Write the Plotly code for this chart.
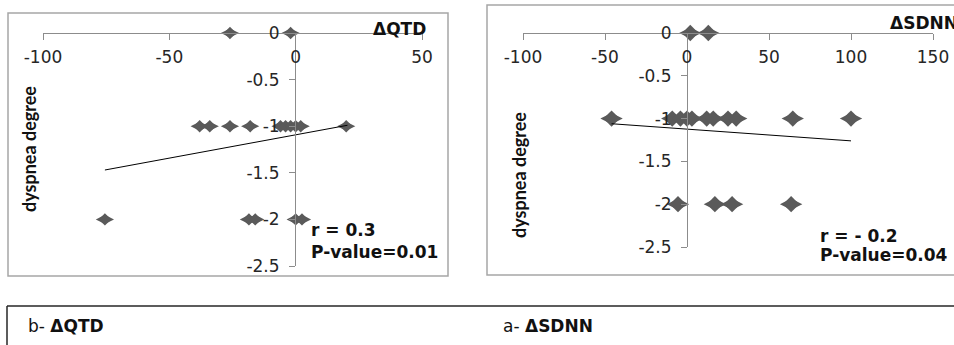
import plotly.graph_objects as go

# ---------------- data ----------------
# Panel b: dQTD vs dyspnea degree
qtd_x = [-26, -2,
         -38, -34, -26, -18, -6, -4, -2, 0, 2, 20,
         -75.5, -18.5, -16, 0, 2.5]
qtd_y = [0, 0,
         -1, -1, -1, -1, -1, -1, -1, -1, -1, -1,
         -2, -2, -2, -2, -2]
qtd_trend_x = [-75.5, 20.5]
qtd_trend_y = [-1.47, -0.99]

# Panel a: dSDNN vs dyspnea degree
sdnn_x = [2, 13,
          -46, -9, -4, 0, 3, 12, 16, 25, 30, 64.5, 100,
          -5.5, 17, 27.5, 63.5]
sdnn_y = [0, 0,
          -1, -1, -1, -1, -1, -1, -1, -1, -1, -1, -1,
          -2, -2, -2, -2]
sdnn_trend_x = [-46, 100]
sdnn_trend_y = [-1.06, -1.26]

qtd_xticks = [-100, -50, 0, 50]
qtd_xtext = ["-100", "-50", "0", "50"]
sdnn_xticks = [-100, -50, 0, 50, 100, 150]
sdnn_xtext = ["-100", "-50", "0", "50", "100", "150"]
y_ticks = [0, -0.5, -1, -1.5, -2, -2.5]
y_text = ["0", "-0.5", "-1", "-1.5", "-2", "-2.5"]

# ---------------- layout helpers ----------------
W, H = 954, 345
def px(x):
    return x / W
def py(y):
    return 1 - y / H

MARK = "#5a5a5a"
AXC = "#8c8c8c"
TXT = "#262626"
tickfont = dict(family="DejaVu Sans", size=17, color=TXT)

fig = go.Figure()

def add_points(x, y, xa, ya, sw, sd):
    fig.add_trace(go.Scatter(x=x, y=y, mode="markers", xaxis=xa, yaxis=ya,
                             marker=dict(symbol="diamond-wide", size=sw, color=MARK),
                             showlegend=False, hoverinfo="skip", cliponaxis=False))
    fig.add_trace(go.Scatter(x=x, y=y, mode="markers", xaxis=xa, yaxis=ya,
                             marker=dict(symbol="diamond", size=sd, color=MARK),
                             showlegend=False, cliponaxis=False))

add_points(qtd_x, qtd_y, "x", "y", 13, 9.5)
fig.add_trace(go.Scatter(x=qtd_trend_x, y=qtd_trend_y, mode="lines", xaxis="x", yaxis="y",
                         line=dict(color="black", width=1), showlegend=False))
add_points(sdnn_x, sdnn_y, "x2", "y2", 16, 12.5)
fig.add_trace(go.Scatter(x=sdnn_trend_x, y=sdnn_trend_y, mode="lines", xaxis="x2", yaxis="y2",
                         line=dict(color="black", width=1), showlegend=False))

def xax(domain, pos, rng, tv, tt):
    return dict(domain=domain, anchor="free", position=pos, side="bottom", range=rng,
                tickvals=tv, ticktext=tt, showgrid=False, zeroline=False,
                showline=True, linecolor=AXC, linewidth=1, ticks="outside",
                ticklen=6, tickcolor=AXC, tickfont=tickfont, ticklabelstandoff=3,
                fixedrange=True, automargin=False)

def yax(domain, pos):
    return dict(domain=domain, anchor="free", position=pos, side="left", range=[-2.5, 0],
                tickvals=y_ticks, ticktext=y_text, showgrid=False, zeroline=False,
                showline=True, linecolor=AXC, linewidth=1, ticks="outside",
                ticklen=6, tickcolor=AXC, tickfont=tickfont, ticklabelstandoff=6,
                fixedrange=True, automargin=False)

fig.update_layout(
    width=W, height=H,
    margin=dict(l=0, r=0, t=0, b=0, autoexpand=False),
    paper_bgcolor="white", plot_bgcolor="rgba(0,0,0,0)",
    xaxis=xax([px(43), px(422)], py(33), [-100, 50], qtd_xticks, qtd_xtext),
    yaxis=yax([py(266), py(33)], px(295)),
    xaxis2=xax([px(523), px(933)], py(33), [-100, 150], sdnn_xticks, sdnn_xtext),
    yaxis2=yax([py(247), py(33)], px(687)),
)

bold = dict(family="DejaVu Sans", size=17, color="#111111")
stat = dict(family="DejaVu Sans", size=17, color="#111111")
lab = dict(family="Lato", size=18, color="#111111")
cap = dict(family="DejaVu Sans", size=17, color="#111111")

ann = [
    dict(text="<b>ΔQTD</b>", x=px(428), y=py(29), xanchor="right", font=bold),
    dict(text="<b>ΔSDNN</b>", x=px(888), y=py(23), xanchor="left", font=bold),
    dict(text="<b>r = 0.3</b>", x=px(309), y=py(230), xanchor="left", font=stat),
    dict(text="<b>P-value=0.01</b>", x=px(309), y=py(252), xanchor="left", font=stat),
    dict(text="<b>r = - 0.2</b>", x=px(818), y=py(236), xanchor="left", font=stat),
    dict(text="<b>P-value=0.04</b>", x=px(818), y=py(255), xanchor="left", font=stat),
    dict(text="<b>dyspnea degree</b>", x=px(29), y=py(149), textangle=-90,
         xanchor="center", font=lab),
    dict(text="<b>dyspnea degree</b>", x=px(519), y=py(175), textangle=-90,
         xanchor="center", font=lab),
    dict(text="b- <b>ΔQTD</b>", x=px(26), y=py(326), xanchor="left", font=cap),
    dict(text="a- <b>ΔSDNN</b>", x=px(501), y=py(326), xanchor="left", font=cap),
]
for a in ann:
    a.update(xref="paper", yref="paper", showarrow=False, yanchor="middle")
fig.update_layout(annotations=ann)

shapes = [
    dict(type="rect", x0=px(8), x1=px(448), y0=py(276), y1=py(13),
         line=dict(color="#a6a6a6", width=1.5)),
    dict(type="rect", x0=px(487), x1=px(975), y0=py(275), y1=py(5),
         line=dict(color="#a6a6a6", width=1.5)),
    dict(type="line", x0=px(7), x1=px(975), y0=py(306), y1=py(306),
         line=dict(color="#262626", width=1.5)),
    dict(type="line", x0=px(7), x1=px(7), y0=py(306), y1=py(370),
         line=dict(color="#262626", width=1.5)),
]
for s in shapes:
    s.update(xref="paper", yref="paper", layer="below")
fig.update_layout(shapes=shapes)

fig.write_html(
    "out.html",
    config={"displayModeBar": False},
    post_script="document.body.style.margin='0';document.body.style.overflow='hidden';",
)
